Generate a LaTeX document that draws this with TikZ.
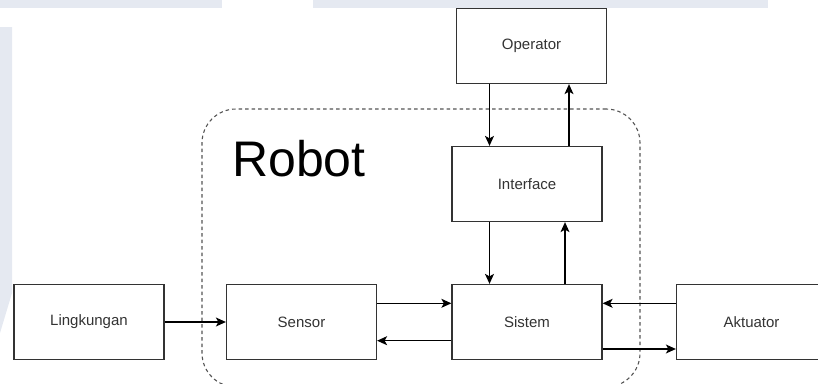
\documentclass[tikz,border=0pt]{standalone}
\usepackage{fontspec}
\setmainfont{Liberation Sans}
\usetikzlibrary{arrows.meta}
\definecolor{wm}{RGB}{229,233,241}
\definecolor{boxline}{RGB}{51,51,51}
\definecolor{dashc}{RGB}{85,85,85}
\begin{document}
\begin{tikzpicture}[x=1pt,y=-1pt,
  blk/.style={draw=boxline, line width=1.25pt, minimum width=150pt, minimum height=75pt,
    inner sep=0pt, font=\fontsize{15}{18}\selectfont, text=boxline, fill=white},
  arr/.style={line width=1.25pt, draw=black, -{Stealth[length=10pt,width=9pt,inset=2.5pt]}},
  container/.style={draw=dashc, line width=1.1pt, dash pattern=on 3.5pt off 3pt,
    rounded corners=34pt, minimum width=438pt, minimum height=278pt, inner sep=0pt}]
\useasboundingbox (0,0) rectangle (818,383);
\clip (0,0) rectangle (818,383);
% faint background watermark
\fill[wm] (0,0) rectangle (222,8);
\fill[wm] (313,0) rectangle (768,8);
\fill[wm] (0,27) -- (12,27) -- (12,293) -- (0,333) -- cycle;
% robot container
\node[container] (robot) at (421,248) {};
\node[anchor=base west, inner sep=0pt, font=\fontsize{50}{60}\selectfont] (robotlbl) at (232,176) {Robot};
% blocks
\node[blk] (op)  at (531.5,46)  {Operator};
\node[blk] (itf) at (527,184)   {Interface};
\node[blk] (sis) at (527,322)   {Sistem};
\node[blk] (sen) at (301.5,322) {Sensor};
\node[blk] (lin) at (89,322)    {Lingkungan};
\node[blk] (akt) at (751.5,322) {Aktuator};
% connectors
\draw[arr] ([xshift=-42pt]op.south) -- ([xshift=-42pt]op.south |- itf.north);
\draw[arr] ([xshift=42pt]itf.north) -- ([xshift=42pt]itf.north |- op.south);
\draw[arr] ([xshift=-37.5pt]itf.south) -- ([xshift=-37.5pt]itf.south |- sis.north);
\draw[arr] ([xshift=38pt]sis.north) -- ([xshift=38pt]sis.north |- itf.south);
\draw[arr] ([yshift=18.7pt]sen.east) -- ([yshift=18.7pt]sen.east -| sis.west);
\draw[arr] ([yshift=-18.7pt]sis.west) -- ([yshift=-18.7pt]sis.west -| sen.east);
\draw[arr] (lin.east) -- (sen.west);
\draw[arr] ([yshift=18.7pt]akt.west) -- ([yshift=18.7pt]akt.west -| sis.east);
\draw[arr] ([yshift=-27pt]sis.east) -- ([yshift=-27pt]sis.east -| akt.west);
\end{tikzpicture}
\end{document}
